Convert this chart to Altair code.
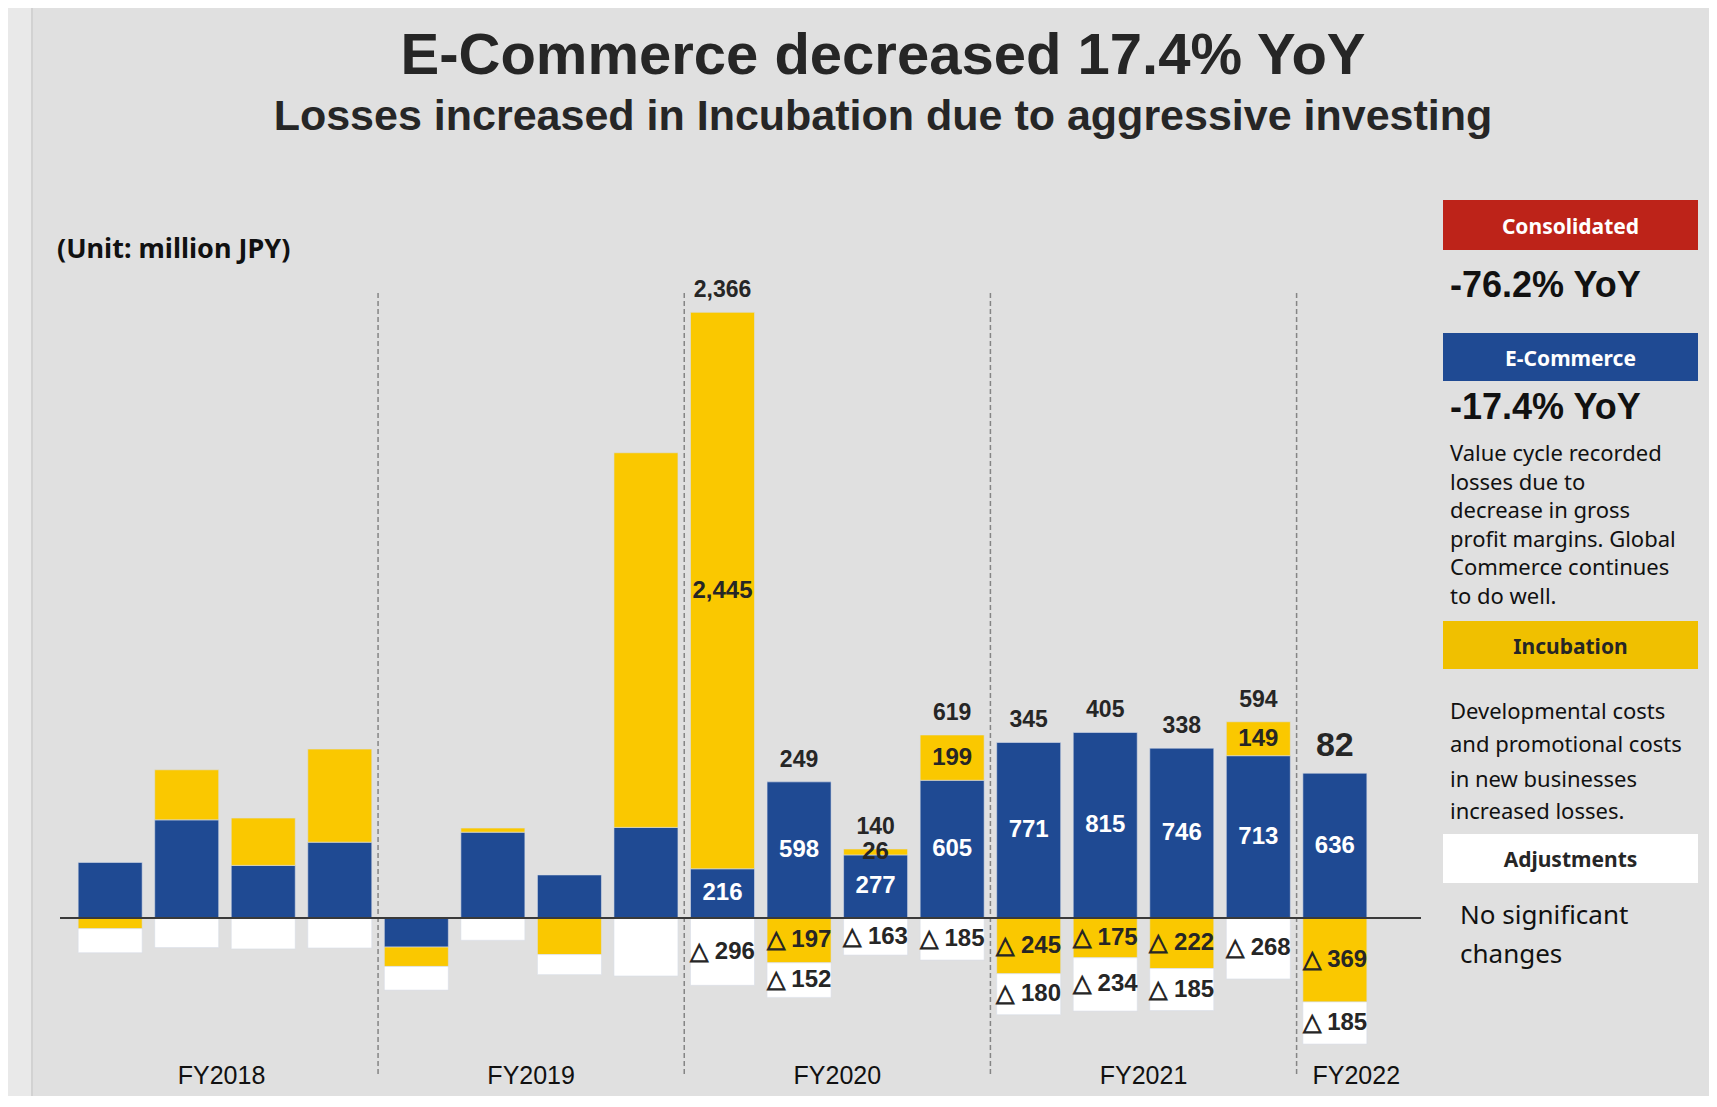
import altair as alt
import pandas as pd

# ---------------- data ----------------
periods = ["FY2018Q1", "FY2018Q2", "FY2018Q3", "FY2018Q4",
           "FY2019Q1", "FY2019Q2", "FY2019Q3", "FY2019Q4",
           "FY2020Q1", "FY2020Q2", "FY2020Q3", "FY2020Q4",
           "FY2021Q1", "FY2021Q2", "FY2021Q3", "FY2021Q4",
           "FY2022Q1"]
fiscal_years = ["FY2018"] * 4 + ["FY2019"] * 4 + ["FY2020"] * 4 + ["FY2021"] * 4 + ["FY2022"]
ecommerce = [244, 431, 231, 333, -128, 377, 189, 398, 216, 598, 277, 605, 771, 815, 746, 713, 636]
incubation = [-47, 220, 208, 409, -85, 18, -161, 1646, 2445, -197, 26, 199, -245, -175, -222, 149, -369]
adjustments = [-106, -130, -136, -132, -104, -98, -88, -255, -296, -152, -163, -185, -180, -234, -185, -268, -185]
consolidated = [None] * 8 + [2366, 249, 140, 619, 345, 405, 338, 594, 82]

segments = ["E-Commerce", "Incubation", "Adjustments"]
seg_colors = ["#1f4a93", "#fac800", "#ffffff"]
seg_text = ["#ffffff", "#262626", "#262626"]

# ---------------- layout constants ----------------
W, H = 1361, 782
X_MIN, X_MAX = -0.59, 17.06
Y_MIN, Y_MAX = -690, 2746
BG = "#e0e0e0"
TXT = "#262626"
FONT = "Liberation Sans, Arial, Helvetica, sans-serif"
FONT2 = "Noto Sans, Liberation Sans, sans-serif"

# ---------------- build tables ----------------
rows = []
for i, p in enumerate(periods):
    pos, neg = 0.0, 0.0
    for s, vals in enumerate([ecommerce, incubation, adjustments]):
        v = vals[i]
        if v >= 0:
            y0, y1 = pos, pos + v
            pos = y1
        else:
            y0, y1 = neg, neg + v
            neg = y1
        lab = ""
        if consolidated[i] is not None:
            lab = f"{v:,}" if v >= 0 else f"△ {abs(v):,}"
        rows.append(dict(idx=i, period=p, seg=segments[s], ord=s, value=v,
                         y0=y0, y1=y1, mid=(y0 + y1) / 2, label=lab,
                         tcolor=seg_text[s]))
bars = pd.DataFrame(rows)

tot_rows = []
for i, p in enumerate(periods):
    if consolidated[i] is None:
        continue
    top = max(ecommerce[i], 0) + max(incubation[i], 0) + max(adjustments[i], 0)
    tot_rows.append(dict(idx=i, top=top, label=f"{consolidated[i]:,}", last=(i == len(periods) - 1)))
totals = pd.DataFrame(tot_rows)

fy_list = list(dict.fromkeys(fiscal_years))
fy_rows = []
for k, fy in enumerate(fy_list):
    ids = [i for i, f in enumerate(fiscal_years) if f == fy]
    lo = X_MIN if k == 0 else min(ids) - 0.5
    hi = X_MAX if k == len(fy_list) - 1 else max(ids) + 0.5
    fy_rows.append(dict(fy=fy, xc=(lo + hi) / 2))
fy_df = pd.DataFrame(fy_rows)

div_df = pd.DataFrame({"xd": [i - 0.5 for i in range(1, len(periods)) if fiscal_years[i] != fiscal_years[i - 1]]})

xs = alt.Scale(domain=[X_MIN, X_MAX], nice=False, zero=False)
ys = alt.Scale(domain=[Y_MIN, Y_MAX], nice=False, zero=False)
X = lambda f: alt.X(f, scale=xs, axis=None)
Y = lambda f: alt.Y(f, scale=ys, axis=None)

base_bars = alt.Chart(bars)

bar_layer = base_bars.mark_bar(size=64, stroke="#d8dde8", strokeWidth=0.6).encode(
    x=X("idx:Q"), y=Y("y0:Q"), y2="y1:Q",
    color=alt.Color("seg:N", scale=alt.Scale(domain=segments, range=seg_colors), legend=None),
    order="ord:Q",
)

seg_labels = base_bars.transform_filter("datum.label != ''").mark_text(
    font=FONT, fontSize=24, fontWeight="bold", baseline="middle"
).encode(
    x=X("idx:Q"), y=Y("mid:Q"), text="label:N",
    color=alt.Color("tcolor:N", scale=None, legend=None),
)

tot_labels = alt.Chart(totals).mark_text(
    font=FONT, fontWeight="bold", baseline="bottom", dy=-10, color=TXT
).encode(
    x=X("idx:Q"), y=Y("top:Q"), text="label:N",
    size=alt.condition("datum.last", alt.value(34), alt.value(23)),
)

zero_rule = alt.Chart(pd.DataFrame({"z": [0]})).mark_rule(color="#3a3a3a", strokeWidth=2).encode(
    y=Y("z:Q"), x=alt.value(0), x2=alt.value(W)
)

dividers = alt.Chart(div_df).mark_rule(color="#858585", strokeWidth=1.5, strokeDash=[5, 3]).encode(
    x=X("xd:Q"), y=alt.value(0), y2=alt.value(H)
)

fy_labels = alt.Chart(fy_df).mark_text(font=FONT, fontSize=25, color="#111111", baseline="middle").encode(
    x=X("xc:Q"), y=alt.value(H + 1), text="fy:N"
)

# ---------------- annotations ----------------
def txt(s, x, y, size, weight="normal", color=TXT, align="left", font=FONT2):
    return alt.Chart(pd.DataFrame({"t": [s]})).mark_text(
        font=font, fontSize=size, fontWeight=weight, color=color, align=align, baseline="middle"
    ).encode(x=alt.value(x), y=alt.value(y), text="t:N")

def box(x1, x2, y1, y2, color):
    return alt.Chart(pd.DataFrame({"a": [0]})).mark_rect(color=color).encode(
        x=alt.value(x1), x2=alt.value(x2), y=alt.value(y1), y2=alt.value(y2)
    )

strip = alt.Chart(pd.DataFrame({"a": [0]})).mark_rect(color="#e9e9e9").encode(
    x=alt.value(-52), x2=alt.value(-29), y=alt.value(-285), y2=alt.value(H + 24)
)
strip_edge = alt.Chart(pd.DataFrame({"a": [0]})).mark_rule(color="#d2d2d2", strokeWidth=2).encode(
    x=alt.value(-28), y=alt.value(-285), y2=alt.value(H + 24)
)

BX1, BX2 = 1383, 1638
BXC = (BX1 + BX2) / 2
TX = 1390

annots = [
    strip, strip_edge,
    txt("E-Commerce decreased 17.4% YoY", 823, -236, 58, "bold", align="center", font=FONT),
    txt("Losses increased in Incubation due to aggressive investing", 823, -176, 43, "bold", align="center", font=FONT),
    txt("(Unit: million JPY)", -3, -43, 27, "bold", color="#111111"),
    box(BX1, BX2, -93, -43, "#bd2319"),
    txt("Consolidated", BXC, -65, 21, "bold", color="#ffffff", align="center"),
    txt("-76.2% YoY", TX, -7, 36, "bold", color="#111111", font=FONT),
    box(BX1, BX2, 40, 88, "#1f4a93"),
    txt("E-Commerce", BXC, 67, 21, "bold", color="#ffffff", align="center"),
    txt("-17.4% YoY", TX, 115, 36, "bold", color="#111111", font=FONT),
    box(BX1, BX2, 328, 376, "#f0c000"),
    txt("Incubation", BXC, 355, 21, "bold", color="#262626", align="center"),
    box(BX1, BX2, 541, 590, "#ffffff"),
    txt("Adjustments", BXC, 568, 21, "bold", color="#262626", align="center"),
    txt("No significant", 1400, 623, 26, color="#111111"),
    txt("changes", 1400, 662, 26, color="#111111"),
]
for line, yy in zip(["Value cycle recorded", "losses due to", "decrease in gross",
                     "profit margins. Global", "Commerce continues", "to do well."],
                    [161, 190, 218, 247, 275, 304]):
    annots.append(txt(line, TX, yy, 22, color="#111111"))
for line, yy in zip(["Developmental costs", "and promotional costs",
                     "in new businesses", "increased losses."],
                    [419, 452, 487, 519]):
    annots.append(txt(line, TX, yy, 22, color="#111111"))

chart = alt.layer(
    *annots[:2], dividers, bar_layer, zero_rule, seg_labels, tot_labels, fy_labels, *annots[2:]
).properties(
    width=W, height=H, background=BG,
    padding={"left": 52, "top": 285, "right": 288, "bottom": 21},
    autosize=alt.AutoSizeParams(type="none"),
).configure_view(stroke=None)

chart.save("out.html", embed_options={"renderer": "svg", "actions": False})
